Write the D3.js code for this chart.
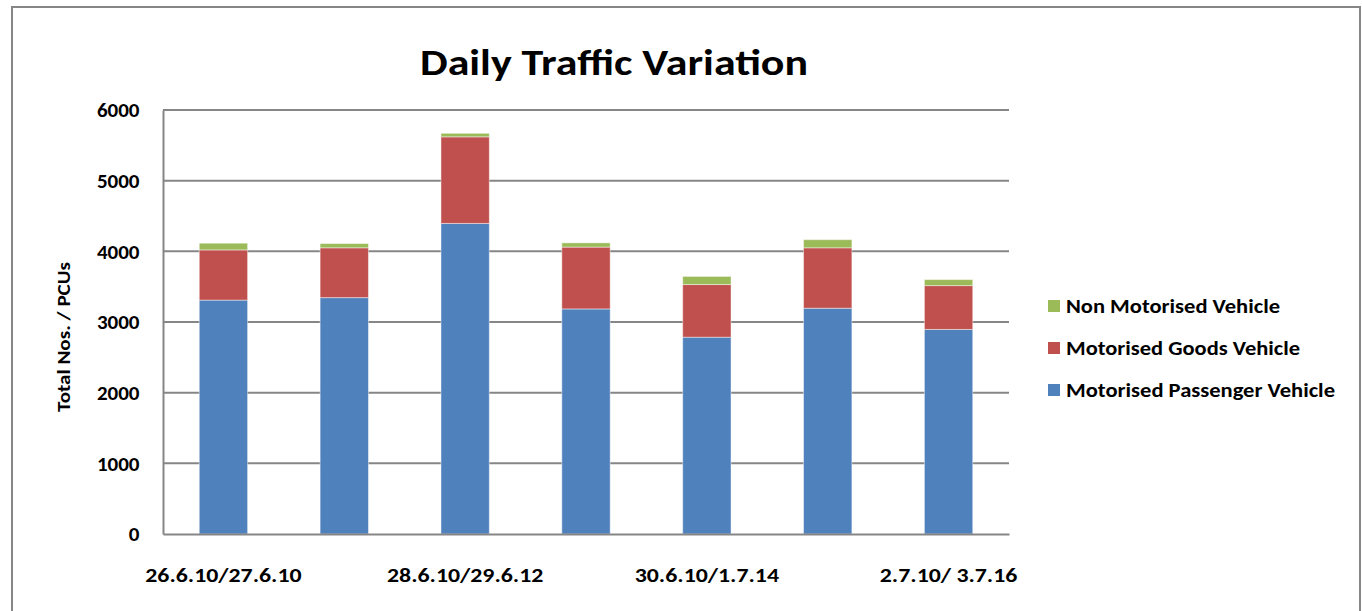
<!DOCTYPE html>
<html><head><meta charset="utf-8">
<script src="https://cdn.jsdelivr.net/npm/d3@7"></script>
<style>
html,body{margin:0;padding:0;background:#fff;}
svg{display:block;}
text{font-family:Carlito,Lato,"Liberation Sans",sans-serif;font-weight:bold;fill:#000;}
</style></head><body>
<svg id="c" width="1362" height="611"></svg>
<script>
const categories = ["26.6.10/27.6.10","27.6.10/28.6.11","28.6.10/29.6.12","29.6.10/30.6.13","30.6.10/1.7.14","1.7.10/2.7.15","2.7.10/ 3.7.16"];
const passenger = [3310, 3345, 4395, 3185, 2785, 3195, 2895];
const goods     = [710, 705, 1225, 875, 745, 855, 620];
const nonMotor  = [95, 60, 50, 60, 115, 115, 85];
const yTicks = [0,1000,2000,3000,4000,5000,6000];
const seriesNames = ["Motorised Passenger Vehicle","Motorised Goods Vehicle","Non Motorised Vehicle"];
const colors = ["#4F81BD","#C0504D","#9BBB59"];

const rows = categories.map((c,i)=>({cat:c, p:passenger[i], g:goods[i], n:nonMotor[i]}));
const stack = d3.stack().keys(["p","g","n"])(rows);

const svg = d3.select("#c");
const L=163, R=1009, T=110, B=534;
const x = d3.scaleBand().domain(categories).range([L,R]).paddingInner(0.6).paddingOuter(0.3);
const y = d3.scaleLinear().domain([0,6000]).range([B,T]);
const FF = "Carlito,Lato,'Liberation Sans',sans-serif";

// fit text to a target width
function fit(sel, w){
  sel.each(function(){
    const t=d3.select(this);
    const cur=this.getComputedTextLength();
    if(cur>0) t.attr("textLength",w).attr("lengthAdjust","spacingAndGlyphs");
  });
}

// outer border
svg.append("rect").attr("x",12).attr("y",7).attr("width",1348).attr("height",620)
  .attr("fill","#fff").attr("stroke","#868686").attr("stroke-width",2);

// title
svg.append("text").attr("x",614).attr("y",75).attr("text-anchor","middle")
  .style("font-size","36px").attr("textLength",388).attr("lengthAdjust","spacingAndGlyphs")
  .text("Daily Traffic Variation");

// gridlines
svg.append("g").selectAll("line").data(yTicks.filter(t=>t>0)).join("line")
  .attr("x1",L).attr("x2",R).attr("y1",d=>y(d)).attr("y2",d=>y(d))
  .attr("stroke","#868686").attr("stroke-width",2);

// y axis
const yAxis = svg.append("g").attr("transform",`translate(${L},0)`)
  .call(d3.axisLeft(y).tickValues(yTicks).tickSize(0).tickPadding(23.5).tickFormat(d3.format("d")));
yAxis.select(".domain").attr("stroke","#868686").attr("stroke-width",2);
yAxis.selectAll("text").style("font-size","21px").style("font-family",FF).attr("fill","#000");

// bars
svg.append("g").selectAll("g").data(stack).join("g").attr("fill",(d,i)=>colors[i])
  .selectAll("rect").data(d=>d).join("rect")
  .attr("x",d=>x(d.data.cat)).attr("width",x.bandwidth())
  .attr("y",d=>y(d[1])).attr("height",d=>y(d[0])-y(d[1]))
  .attr("stroke","#ffffff").attr("stroke-opacity",0.45).attr("stroke-width",1);

// x axis
const xAxis = svg.append("g").attr("transform",`translate(0,${B})`)
  .call(d3.axisBottom(x).tickSize(0).tickPadding(0).tickFormat((d,i)=> i%2===0 ? d : ""));
xAxis.select(".domain").attr("stroke","#868686").attr("stroke-width",2);
xAxis.selectAll("text").attr("y",48).attr("dy",null).style("font-size","20px").style("font-family",FF).attr("fill","#000")
  .each(function(d,i){ if(i%2===0){ const w = this.getComputedTextLength(); d3.select(this).attr("textLength", w*1.19).attr("lengthAdjust","spacingAndGlyphs"); } });

// y title
svg.append("text").attr("transform","translate(70,337) rotate(-90)").attr("text-anchor","middle")
  .style("font-size","19px").attr("textLength",150).attr("lengthAdjust","spacingAndGlyphs").text("Total Nos. / PCUs");

// legend (reverse order)
const legOrder = [2,1,0];
const legW = {2:214, 1:234, 0:269};
const lg = svg.append("g").selectAll("g").data(legOrder).join("g")
  .attr("transform",(d,i)=>`translate(1048,${306+i*42})`);
lg.append("rect").attr("x",0).attr("y",-6).attr("width",12).attr("height",12).attr("fill",d=>colors[d]);
lg.append("text").attr("x",18).attr("y",7).style("font-size","20px")
  .attr("textLength",d=>legW[d]).attr("lengthAdjust","spacingAndGlyphs").text(d=>seriesNames[d]);
</script>
</body></html>
